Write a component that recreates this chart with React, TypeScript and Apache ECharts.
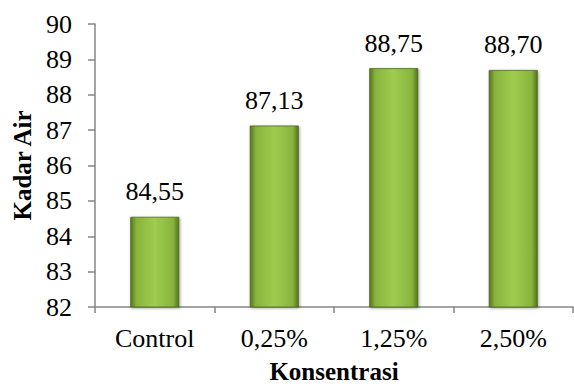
import React, { useEffect, useRef } from "react";
import * as echarts from "echarts";

const categories = ["Control", "0,25%", "1,25%", "2,50%"];
const values = [84.55, 87.13, 88.75, 88.7];
const yMin = 82;
const yMax = 90;
const yInterval = 1;

const FONT = "Liberation Serif";

export default function App() {
  const ref = useRef<HTMLDivElement>(null);
  useEffect(() => {
    if (!ref.current) return;
    const chart = echarts.init(ref.current, undefined, { renderer: "svg" });
    const barColor = new echarts.graphic.LinearGradient(0, 0, 1, 0, [
      { offset: 0, color: "#56741d" },
      { offset: 0.12, color: "#88b43c" },
      { offset: 0.5, color: "#9fcc4f" },
      { offset: 0.88, color: "#88b43c" },
      { offset: 1, color: "#56741d" },
    ]);
    chart.setOption({
      animation: false,
      textStyle: { fontFamily: FONT },
      grid: { left: 95, right: 1, top: 24, bottom: 81, containLabel: false },
      xAxis: {
        type: "category",
        data: categories,
        name: "Konsentrasi",
        nameLocation: "middle",
        nameGap: 52,
        nameTextStyle: { fontFamily: FONT, fontSize: 25, fontWeight: "bold", color: "#000" },
        axisLine: { lineStyle: { color: "#868686", width: 1.5 } },
        axisTick: { show: true, alignWithLabel: false, length: 6, lineStyle: { color: "#868686", width: 1.5 } },
        axisLabel: { fontFamily: FONT, fontSize: 26, color: "#000", margin: 18 },
      },
      yAxis: {
        type: "value",
        min: yMin,
        max: yMax,
        interval: yInterval,
        name: "Kadar Air",
        nameLocation: "middle",
        nameGap: 57,
        nameRotate: 90,
        nameTextStyle: { fontFamily: FONT, fontSize: 25, fontWeight: "bold", color: "#000" },
        axisLine: { show: true, lineStyle: { color: "#868686", width: 1.5 } },
        axisTick: { show: true, length: 7, lineStyle: { color: "#868686", width: 1.5 } },
        splitLine: { show: false },
        axisLabel: { fontFamily: FONT, fontSize: 26, color: "#000", margin: 23 },
      },
      series: [
        {
          type: "bar",
          data: values,
          barWidth: 49,
          itemStyle: {
            color: barColor,
            borderColor: "#4f6a1a",
            borderWidth: 0.8,
            shadowColor: "rgba(0,0,0,0.35)",
            shadowBlur: 3,
            shadowOffsetX: 1,
            shadowOffsetY: 1,
          },
          label: {
            show: true,
            position: "top",
            distance: 12,
            fontFamily: FONT,
            fontSize: 26,
            color: "#000",
            formatter: (p: any) => Number(p.value).toFixed(2).replace(".", ","),
          },
        },
      ],
    });
    return () => chart.dispose();
  }, []);
  return <div ref={ref} style={{ width: 574, height: 389, position: "absolute", left: 0, top: 0 }} />;
}
